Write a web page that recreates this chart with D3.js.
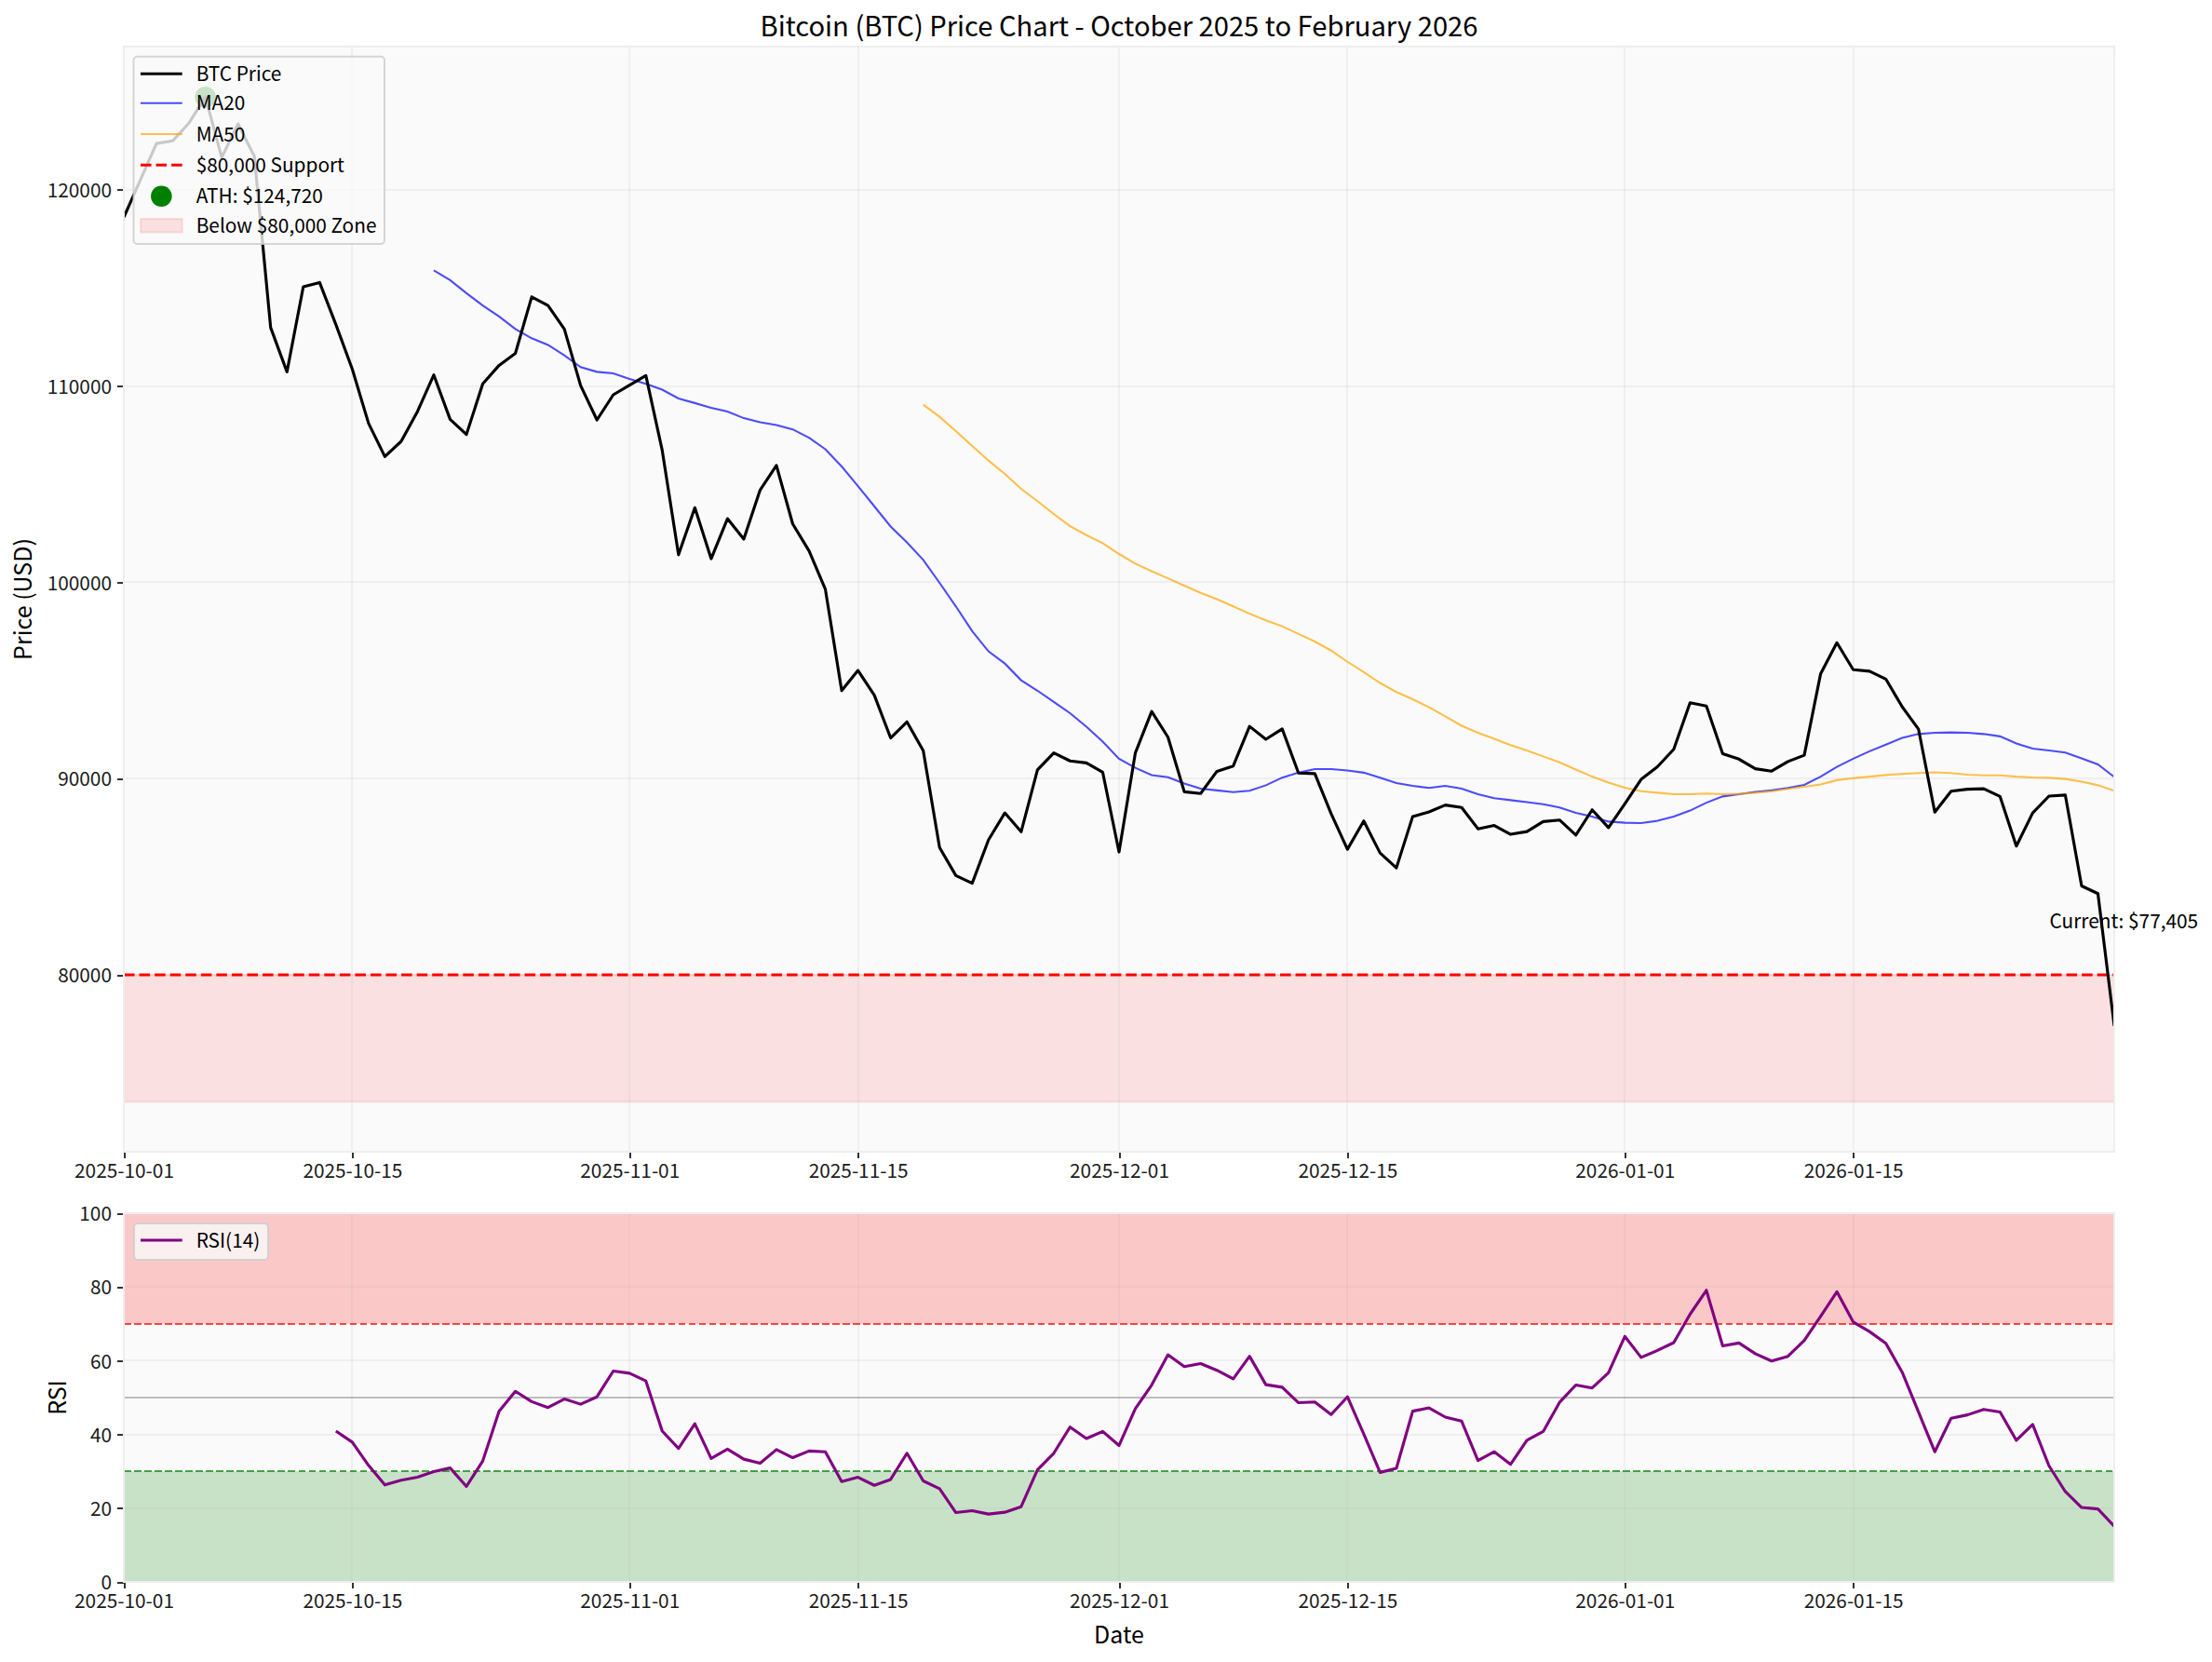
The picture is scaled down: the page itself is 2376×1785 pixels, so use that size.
<!DOCTYPE html>
<html>
<head>
<meta charset="utf-8">
<script src="https://cdn.jsdelivr.net/npm/d3@7"></script>
<style>
  html, body { margin: 0; padding: 0; background: #fff; }
  text { font-family: "Noto Sans CJK JP", "Noto Sans", sans-serif; fill: #000; }
  .axes text { fill: #1a1a1a; }
</style>
</head>
<body>
<div id="wrapper"></div>
<script>
// values, one per day from 2025-10-01
const startDate = "2025-10-01"
const price = [
  118590, 120470, 122350, 122490, 123400, 124720, 121640, 123350, 121700, 112970,
  110720, 115050, 115270, 113125, 110870, 108100, 106400, 107180, 108700, 110560,
  108300, 107530, 110110, 111050, 111660, 114540, 114100, 112900, 110020, 108270,
  109550, 110040, 110530, 106720, 101400, 103800, 101200, 103240, 102200, 104700,
  105950, 102970, 101600, 99640, 94480, 95510, 94250, 92070, 92890, 91420,
  86490, 85060, 84670, 86880, 88250, 87290, 90440, 91310, 90900, 90800,
  90320, 86260, 91310, 93420, 92110, 89330, 89240, 90370, 90640, 92660,
  92000, 92530, 90280, 90250, 88210, 86400, 87840, 86210, 85450, 88070,
  88300, 88650, 88530, 87440, 87610, 87160, 87300, 87810, 87890, 87120,
  88410, 87500, 88710, 89960, 90600, 91490, 93860, 93700, 91270, 90990,
  90500, 90380, 90870, 91190, 95330, 96920, 95550, 95470, 95070, 93660,
  92520, 88290, 89360, 89460, 89480, 89090, 86560, 88250, 89110, 89160,
  84530, 84140, 77405
]
const ma20Offset = 19
const ma20 = [
  115890, 115390, 114730, 114100, 113540, 112900, 112430, 112090, 111560, 110960,
  110720, 110640, 110360, 110110, 109810, 109360, 109130, 108890, 108700, 108360,
  108150, 108010, 107790, 107360, 106780, 105900, 104900, 103870, 102840, 102030,
  101140, 99970, 98770, 97510, 96480, 95860, 95010, 94480, 93900, 93330,
  92640, 91880, 91010, 90550, 90180, 90070, 89750, 89490, 89400, 89310,
  89380, 89660, 90050, 90300, 90480, 90480, 90410, 90300, 90050, 89770,
  89630, 89520, 89630, 89490, 89200, 89000, 88900, 88800, 88690, 88530,
  88250, 88070, 87810, 87750, 87730, 87850, 88070, 88370, 88770, 89090,
  89200, 89320, 89400, 89520, 89680, 90100, 90600, 91010, 91390, 91730,
  92070, 92270, 92330, 92350, 92330, 92270, 92150, 91790, 91530, 91430,
  91330, 91030, 90720, 90080
]
const ma50Offset = 49
const ma50 = [
  109047, 108430, 107700, 106945, 106200, 105520, 104760, 104130, 103480, 102860,
  102400, 101990, 101440, 100950, 100560, 100200, 99830, 99460, 99140, 98770,
  98400, 98060, 97760, 97370, 96980, 96520, 95950, 95420, 94870, 94410,
  94040, 93630, 93170, 92690, 92330, 92030, 91710, 91430, 91130, 90830,
  90460, 90100, 89800, 89540, 89360, 89280, 89200, 89200, 89240, 89200,
  89220, 89280, 89360, 89480, 89580, 89700, 89920, 90020, 90100, 90180,
  90240, 90280, 90320, 90280, 90200, 90160, 90160, 90100, 90060, 90040,
  89980, 89840, 89660, 89380
]
const rsiOffset = 13
const rsi = [
  40.9, 37.9, 31.6, 26.3, 27.6, 28.4, 29.9, 30.9, 25.9, 32.8,
  46.3, 51.7, 48.9, 47.3, 49.6, 48.2, 50.2, 57.2, 56.6, 54.5,
  40.9, 36.2, 42.9, 33.5, 36.0, 33.3, 32.2, 35.9, 33.7, 35.5,
  35.3, 27.2, 28.4, 26.2, 27.8, 34.9, 27.4, 25.3, 18.8, 19.3,
  18.4, 18.9, 20.4, 30.4, 34.9, 42.0, 38.9, 40.8, 37.0, 47.0,
  53.4, 61.6, 58.4, 59.2, 57.4, 55.1, 61.2, 53.5, 52.8, 48.6,
  48.8, 45.4, 50.2, 40.1, 29.7, 30.8, 46.3, 47.2, 44.7, 43.6,
  32.9, 35.3, 31.9, 38.4, 40.8, 48.7, 53.4, 52.6, 56.7, 66.6,
  60.9, 62.8, 64.9, 72.6, 79.1, 64.0, 64.8, 61.9, 59.9, 61.2,
  65.5, 72.0, 78.7, 70.5, 67.9, 64.7, 56.9, 46.1, 35.3, 44.4,
  45.3, 46.8, 46.1, 38.4, 42.7, 31.5, 24.5, 20.2, 19.8, 15.1
]
const xTickLabels = ["2025-10-01", "2025-10-15", "2025-11-01", "2025-11-15", "2025-12-01", "2025-12-15", "2026-01-01", "2026-01-15"]
const priceTicks = [80000, 90000, 100000, 110000, 120000]
const rsiTicks = [0, 20, 40, 60, 80, 100]
const supportLevel = 80000
const zoneFloor = 73535
const athValue = 124720
const rsiLevels = { overbought: 70, middle: 50, oversold: 30 }
const legendLabels = ["BTC Price", "MA20", "MA50", "$80,000 Support", "ATH: $124,720", "Below $80,000 Zone"]

function drawChart() {

  // 1. Accessors
  const parseDate = d3.utcParse("%Y-%m-%d")
  const formatDate = d3.utcFormat("%Y-%m-%d")
  const dayAt = i => d3.utcDay.offset(parseDate(startDate), i)
  const toPoints = (values, offset) => values.map((v, i) => ({ date: dayAt(i + offset), value: v }))

  const pricePoints = toPoints(price, 0)
  const ma20Points = toPoints(ma20, ma20Offset)
  const ma50Points = toPoints(ma50, ma50Offset)
  const rsiPoints = toPoints(rsi, rsiOffset)
  const lastPoint = pricePoints[pricePoints.length - 1]
  const athPoint = pricePoints.find(d => d.value == athValue)

  // 2. Dimensions
  const dimensions = {
    width: 2376,
    height: 1785,
    left: 133,
    right: 2271,
    main: { top: 50, bottom: 1237 },
    lower: { top: 1303, bottom: 1699 },
  }
  const bigLine = 3.125
  const thinLine = 2.08
  const bigDash = "11.56 5"
  const thinDash = "7.7 3.33"

  // 3. Canvas
  const wrapper = d3.select("#wrapper")
    .append("svg")
      .attr("width", dimensions.width)
      .attr("height", dimensions.height)
      .style("display", "block")

  const defs = wrapper.append("defs")
  defs.append("clipPath").attr("id", "mainClip").append("rect")
    .attr("x", dimensions.left).attr("y", dimensions.main.top)
    .attr("width", dimensions.right - dimensions.left)
    .attr("height", dimensions.main.bottom - dimensions.main.top)
  defs.append("clipPath").attr("id", "lowerClip").append("rect")
    .attr("x", dimensions.left).attr("y", dimensions.lower.top)
    .attr("width", dimensions.right - dimensions.left)
    .attr("height", dimensions.lower.bottom - dimensions.lower.top)

  // 4. Scales
  const xScale = d3.scaleUtc()
    .domain([parseDate(startDate), lastPoint.date])
    .range([dimensions.left, dimensions.right])
  const yMain = d3.scaleLinear()
    .domain([70990, 127290])
    .range([dimensions.main.bottom, dimensions.main.top])
  const yLower = d3.scaleLinear()
    .domain([0, 100])
    .range([dimensions.lower.bottom, dimensions.lower.top])

  const lineFor = y => d3.line().x(d => xScale(d.date)).y(d => y(d.value))
  const xTicks = xTickLabels.map(parseDate)

  // panel background, grid and axes shared by both charts
  function drawPanel(y, ticks, box) {
    const panel = wrapper.append("g")
    panel.append("rect")
      .attr("x", dimensions.left).attr("y", box.top)
      .attr("width", dimensions.right - dimensions.left)
      .attr("height", box.bottom - box.top)
      .attr("fill", "#fafafa")

    const fills = panel.append("g")
    const grid = panel.append("g")
    grid.selectAll(".gridX").data(xTicks).join("line")
      .attr("x1", d => xScale(d)).attr("x2", d => xScale(d))
      .attr("y1", box.top).attr("y2", box.bottom)
    grid.selectAll(".gridY").data(ticks).join("line")
      .attr("x1", dimensions.left).attr("x2", dimensions.right)
      .attr("y1", d => y(d)).attr("y2", d => y(d))
    grid.selectAll("line")
      .attr("stroke", "#b0b0b0").attr("stroke-opacity", 0.14).attr("stroke-width", 2)
      .attr("shape-rendering", "crispEdges")

    const xAxis = d3.axisBottom(xScale).tickValues(xTicks).tickFormat(formatDate).tickSize(7).tickPadding(6)
    const yAxis = d3.axisLeft(y).tickValues(ticks).tickFormat(d3.format("d")).tickSize(7).tickPadding(6)
    const axes = panel.append("g").attr("class", "axes")
    axes.append("g").attr("transform", `translate(0,${box.bottom})`).call(xAxis)
    axes.append("g").attr("class", "yAxis").attr("transform", `translate(${dimensions.left},0)`).call(yAxis)
    axes.selectAll(".domain").remove()
    axes.selectAll(".tick line")
      .attr("stroke", "#333").attr("stroke-width", 2).attr("shape-rendering", "crispEdges")
    axes.selectAll("text").style("font-size", "20.83px")
    axes.selectAll(".yAxis text").attr("dy", "0.37em")

    return fills
  }

  function drawSpines(box) {
    wrapper.append("rect")
      .attr("x", dimensions.left).attr("y", box.top)
      .attr("width", dimensions.right - dimensions.left)
      .attr("height", box.bottom - box.top)
      .attr("fill", "none").attr("stroke", "#eeeeee").attr("stroke-width", 2)
      .attr("shape-rendering", "crispEdges")
  }

  // 5. Main chart
  const mainFills = drawPanel(yMain, priceTicks, dimensions.main)
  mainFills.append("rect")
    .attr("x", dimensions.left).attr("y", yMain(supportLevel))
    .attr("width", dimensions.right - dimensions.left)
    .attr("height", yMain(zoneFloor) - yMain(supportLevel))
    .attr("fill", "#ff0000").attr("fill-opacity", 0.1)
    .attr("stroke", "#ff0000").attr("stroke-opacity", 0.1).attr("stroke-width", 2)

  const mainMarks = wrapper.append("g").attr("clip-path", "url(#mainClip)")
  mainMarks.append("line")
    .attr("x1", dimensions.left).attr("x2", dimensions.right)
    .attr("y1", yMain(supportLevel)).attr("y2", yMain(supportLevel))
    .attr("stroke", "#ff0000").attr("stroke-width", bigLine).attr("stroke-dasharray", bigDash)
  mainMarks.append("path").datum(ma20Points)
    .attr("d", lineFor(yMain))
    .attr("fill", "none").attr("stroke", "#0000ff").attr("stroke-opacity", 0.7).attr("stroke-width", thinLine)
  mainMarks.append("path").datum(ma50Points)
    .attr("d", lineFor(yMain))
    .attr("fill", "none").attr("stroke", "#ffa500").attr("stroke-opacity", 0.7).attr("stroke-width", thinLine)
  mainMarks.append("circle")
    .attr("cx", xScale(athPoint.date)).attr("cy", yMain(athPoint.value)).attr("r", 11.3)
    .attr("fill", "#008000")
  mainMarks.append("path").datum(pricePoints)
    .attr("d", lineFor(yMain))
    .attr("fill", "none").attr("stroke", "#000").attr("stroke-width", bigLine).attr("stroke-linejoin", "round")

  drawSpines(dimensions.main)

  wrapper.append("text")
    .attr("x", xScale(lastPoint.date) - 69.5)
    .attr("y", yMain(lastPoint.value) - 105)
    .style("font-size", "20.83px")
    .text(`Current: $${d3.format(",")(lastPoint.value)}`)

  // 6. RSI chart
  const lowerFills = drawPanel(yLower, rsiTicks, dimensions.lower)
  lowerFills.selectAll("rect").data([[rsiLevels.overbought, 100, "#ff0000"], [0, rsiLevels.oversold, "#008000"]]).join("rect")
    .attr("x", dimensions.left).attr("y", d => yLower(d[1]))
    .attr("width", dimensions.right - dimensions.left)
    .attr("height", d => yLower(d[0]) - yLower(d[1]))
    .attr("fill", d => d[2]).attr("fill-opacity", 0.2)

  const lowerMarks = wrapper.append("g").attr("clip-path", "url(#lowerClip)")
  lowerMarks.selectAll("line").data([
    [rsiLevels.overbought, "#ff0000", thinDash],
    [rsiLevels.oversold, "#008000", thinDash],
    [rsiLevels.middle, "#808080", null],
  ]).join("line")
    .attr("x1", dimensions.left).attr("x2", dimensions.right)
    .attr("y1", d => yLower(d[0])).attr("y2", d => yLower(d[0]))
    .attr("stroke", d => d[1]).attr("stroke-opacity", d => d[2] ? 0.7 : 0.5)
    .attr("stroke-width", 2)
    .attr("stroke-dasharray", d => d[2])
    .attr("shape-rendering", "crispEdges")
  lowerMarks.append("path").datum(rsiPoints)
    .attr("d", lineFor(yLower))
    .attr("fill", "none").attr("stroke", "#800080").attr("stroke-width", bigLine).attr("stroke-linejoin", "round")

  drawSpines(dimensions.lower)

  // 7. Peripherals
  wrapper.append("text")
    .attr("x", (dimensions.left + dimensions.right) / 2).attr("y", 39)
    .attr("text-anchor", "middle")
    .style("font-size", "29.17px")
    .text("Bitcoin (BTC) Price Chart - October 2025 to February 2026")

  wrapper.append("text")
    .attr("x", (dimensions.left + dimensions.right) / 2).attr("y", 1765)
    .attr("text-anchor", "middle")
    .style("font-size", "25px")
    .text("Date")

  const yLabel = (label, x, box) => wrapper.append("text")
    .attr("transform", `translate(${x},${(box.top + box.bottom) / 2}) rotate(-90)`)
    .attr("text-anchor", "middle")
    .style("font-size", "25px")
    .text(label)
  yLabel("Price (USD)", 34, dimensions.main)
  yLabel("RSI", 71, dimensions.lower)

  // legends
  const legendBox = (x0, x1, y0, y1) => wrapper.append("rect")
    .attr("x", x0).attr("y", y0)
    .attr("width", x1 - x0).attr("height", y1 - y0)
    .attr("rx", 4)
    .attr("fill", "#fafafa").attr("fill-opacity", 0.8)
    .attr("stroke", "#cccccc").attr("stroke-opacity", 0.8).attr("stroke-width", 2)

  legendBox(143.5, 413, 60.7, 262)
  const rowY = [79.3, 110.7, 144, 177.3, 210.7, 242]
  const handleX = [151, 195.7]
  const handleStyles = [
    { stroke: "#000", opacity: 1, width: bigLine },
    { stroke: "#0000ff", opacity: 0.7, width: thinLine },
    { stroke: "#ffa500", opacity: 0.7, width: thinLine },
    { stroke: "#ff0000", opacity: 1, width: bigLine, dash: bigDash },
  ]
  handleStyles.forEach((s, i) => {
    wrapper.append("line")
      .attr("x1", handleX[0]).attr("x2", handleX[1])
      .attr("y1", rowY[i]).attr("y2", rowY[i])
      .attr("stroke", s.stroke).attr("stroke-opacity", s.opacity)
      .attr("stroke-width", s.width).attr("stroke-dasharray", s.dash || null)
  })
  wrapper.append("circle")
    .attr("cx", (handleX[0] + handleX[1]) / 2).attr("cy", rowY[4]).attr("r", 11.3)
    .attr("fill", "#008000")
  wrapper.append("rect")
    .attr("x", handleX[0]).attr("y", rowY[5] - 7)
    .attr("width", handleX[1] - handleX[0]).attr("height", 14.5)
    .attr("fill", "#ff0000").attr("fill-opacity", 0.1)
    .attr("stroke", "#ff0000").attr("stroke-opacity", 0.1).attr("stroke-width", 2)
  wrapper.selectAll(".legendText").data(legendLabels).join("text")
    .attr("class", "legendText")
    .attr("x", 210.7)
    .attr("y", (d, i) => rowY[i] - 1.5)
    .attr("dominant-baseline", "central")
    .style("font-size", "20.83px")
    .text(d => d)

  legendBox(144, 288, 1314, 1353)
  wrapper.append("line")
    .attr("x1", handleX[0]).attr("x2", handleX[1])
    .attr("y1", 1332).attr("y2", 1332)
    .attr("stroke", "#800080").attr("stroke-width", bigLine)
  wrapper.append("text")
    .attr("x", 210.7).attr("y", 1330.5)
    .attr("dominant-baseline", "central")
    .style("font-size", "20.83px")
    .text("RSI(14)")
}
drawChart()
</script>
</body>
</html>
